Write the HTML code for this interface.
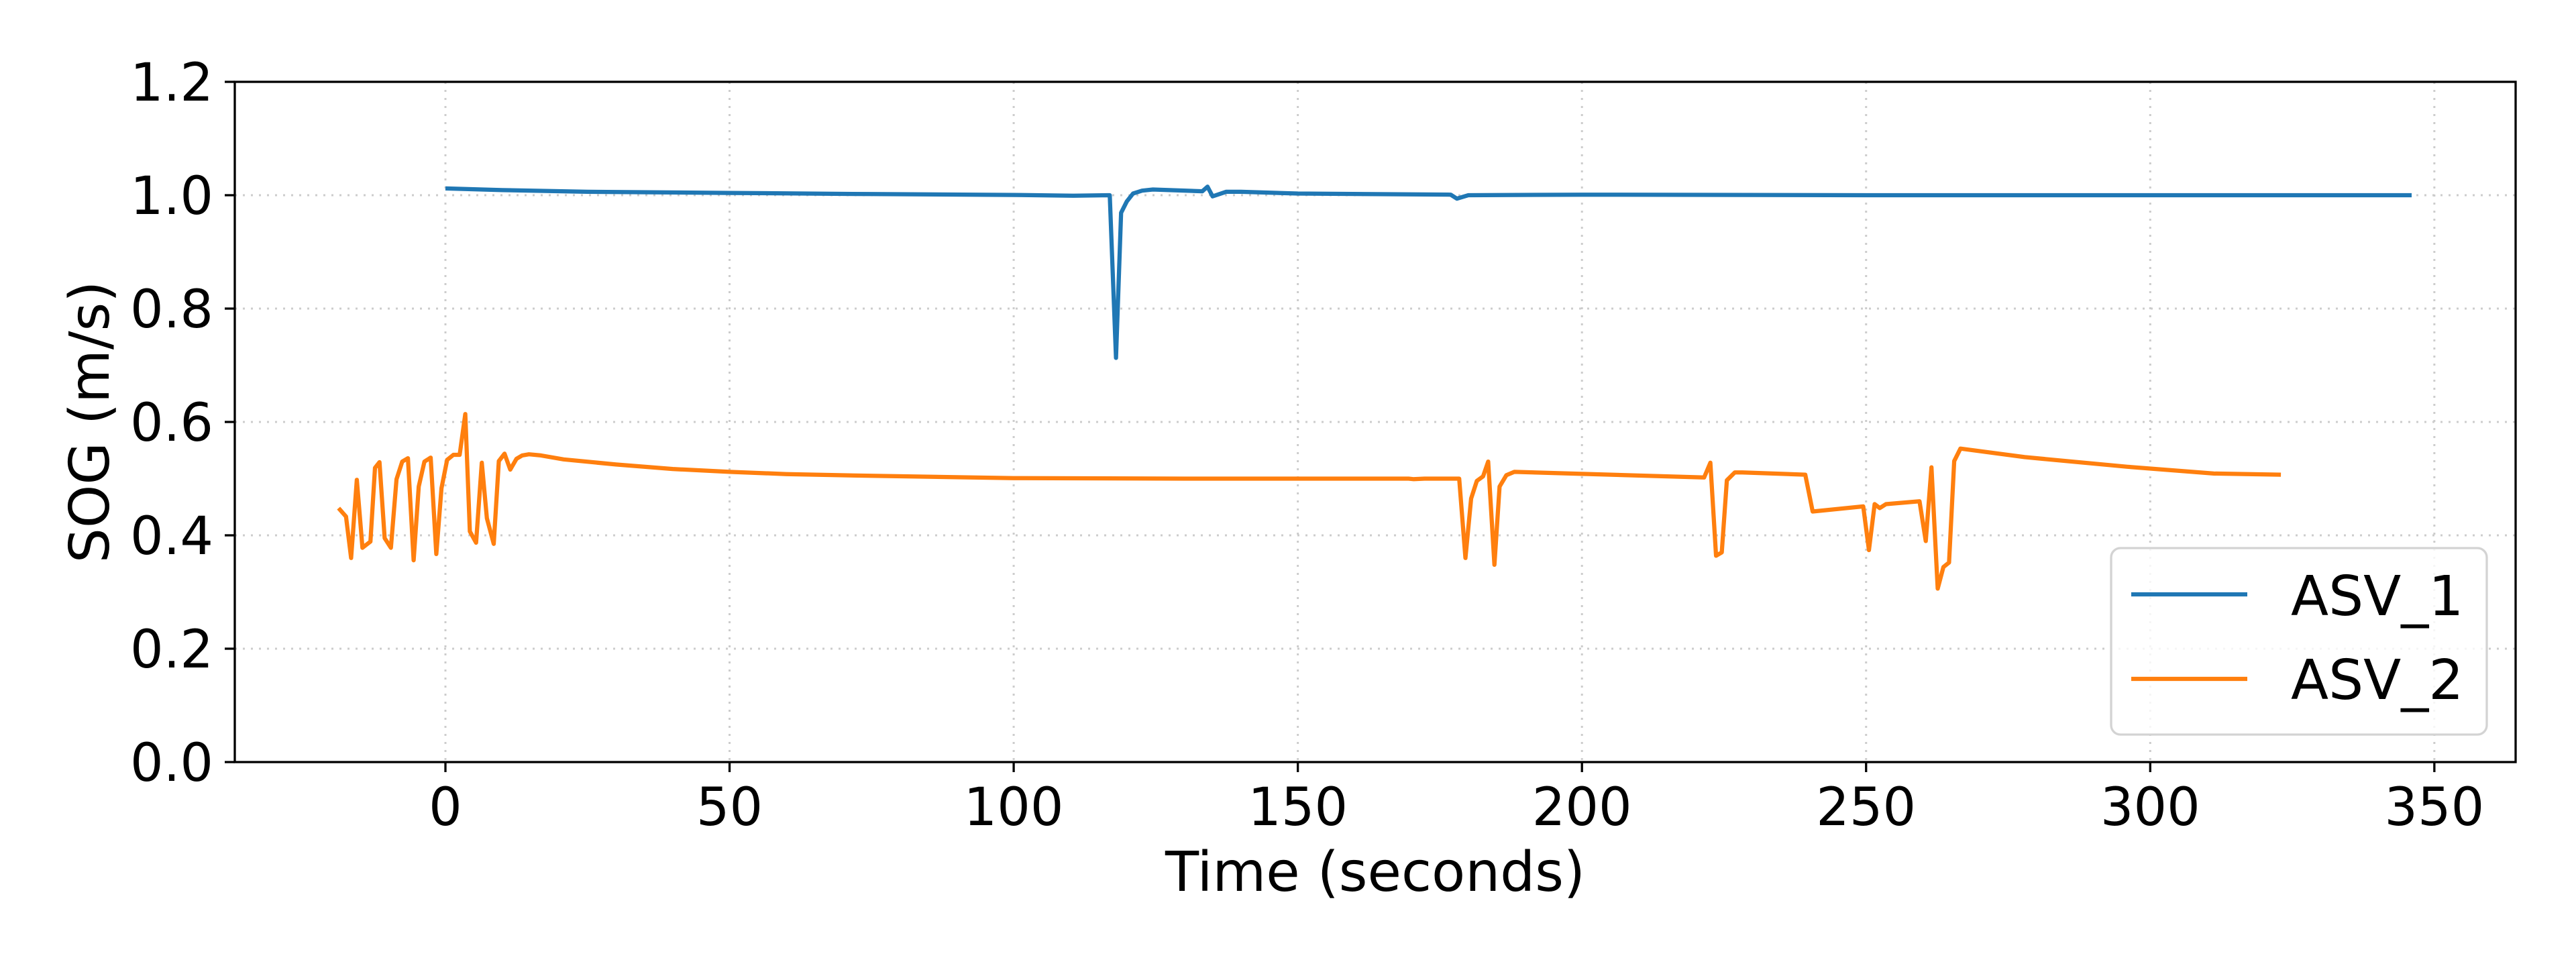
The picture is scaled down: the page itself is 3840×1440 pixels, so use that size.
<!DOCTYPE html>
<html><head><meta charset="utf-8"><style>
html,body{margin:0;padding:0;background:#fff;}
svg{display:block;font-family:"DejaVu Sans","Liberation Sans",sans-serif;}
</style></head><body>
<svg id="chart" width="3840" height="1440" viewBox="0 0 3840 1440" xmlns="http://www.w3.org/2000/svg">
<rect x="0" y="0" width="3840" height="1440" fill="#fff"/>
<g id="grid"></g>
<g id="series"></g>
<rect x="350" y="122" width="3400" height="1014" fill="none" stroke="#000" stroke-width="3.3"/>
<g id="xticks"></g>
<g id="yticks"></g>
<text x="2050" y="1328" font-size="82" text-anchor="middle">Time (seconds)</text>
<text x="0" y="0" font-size="82" text-anchor="middle" transform="translate(162,629) rotate(-90)">SOG (m/s)</text>
<g>
<rect x="3147" y="817" width="560" height="278" rx="14" fill="#fff" fill-opacity="0.8" stroke="#d3d3d3" stroke-width="3.3"/>
<line x1="3177" y1="886" x2="3350" y2="886" stroke="#1f77b4" stroke-width="6.25"/>
<text x="3415" y="917" font-size="82">ASV_1</text>
<line x1="3177" y1="1012" x2="3350" y2="1012" stroke="#ff7f0e" stroke-width="6.25"/>
<text x="3415" y="1042" font-size="82">ASV_2</text>
</g>
</svg>
<script>
const xTicks = [0,50,100,150,200,250,300,350];
const yTicks = [0.0,0.2,0.4,0.6,0.8,1.0,1.2];
const yTickLabels = ["0.0","0.2","0.4","0.6","0.8","1.0","1.2"];
const asv1Time = [0,10,25,50,75,100,110.5,116.9,118.0,118.9,119.9,121.0,122.6,124.5,133.2,134.1,135.0,137.4,140.0,150.0,176.9,178.0,180.0,200,250,300,346];
const asv1Sog  = [1.012,1.009,1.006,1.004,1.002,1.0005,0.999,1.000,0.713,0.969,0.989,1.003,1.008,1.010,1.007,1.015,0.998,1.006,1.006,1.003,1.001,0.994,1.000,1.001,1.000,1.000,1.000];
const asv2Time = [-18.8,-17.5,-16.6,-15.6,-14.6,-13.2,-12.4,-11.6,-10.7,-9.6,-8.6,-7.6,-6.6,-5.6,-4.7,-3.7,-2.6,-1.6,-0.7,0.3,1.4,2.5,3.5,4.3,5.4,6.4,7.3,8.5,9.4,10.4,11.4,12.5,13.5,14.7,16.8,20.8,30,40,50,60,75,100,130,169.5,170.4,172.3,178.4,179.5,180.5,181.5,182.6,183.5,184.6,185.5,186.7,188.1,221.5,222.6,223.6,224.6,225.5,226.9,228.2,239.3,240.6,249.5,250.5,251.5,252.4,253.5,259.4,260.5,261.5,262.6,263.6,264.6,265.5,266.6,277.9,296,311.2,323];
const asv2Sog  = [0.448,0.433,0.360,0.498,0.378,0.389,0.519,0.529,0.395,0.378,0.499,0.530,0.536,0.356,0.486,0.530,0.537,0.367,0.483,0.533,0.542,0.542,0.614,0.407,0.387,0.528,0.430,0.385,0.531,0.544,0.516,0.535,0.541,0.543,0.541,0.534,0.525,0.517,0.512,0.508,0.505,0.501,0.500,0.500,0.499,0.500,0.500,0.360,0.465,0.496,0.504,0.530,0.348,0.486,0.506,0.512,0.502,0.528,0.364,0.370,0.497,0.511,0.511,0.507,0.442,0.451,0.374,0.455,0.448,0.455,0.460,0.390,0.520,0.306,0.344,0.352,0.531,0.553,0.538,0.521,0.509,0.507];

const NS = "http://www.w3.org/2000/svg";
const X0 = 664, PXS = 8.471, YB = 1136, PXV = 845;
function sx(t){ return X0 + t*PXS; }
function sy(v){ return YB - v*PXV; }
function mk(tag, attrs, parent){ const e=document.createElementNS(NS,tag); for(const k in attrs) e.setAttribute(k,attrs[k]); parent.appendChild(e); return e; }

const grid=document.getElementById('grid'), xt=document.getElementById('xticks'), yt=document.getElementById('yticks'), ser=document.getElementById('series');
xTicks.forEach(t=>{
  const x=sx(t);
  const g=mk('line',{x1:x,y1:122,x2:x,y2:1136,stroke:'#cccccc','stroke-width':3,'stroke-dasharray':'3,9'},grid);
  
  
  const tk=mk('line',{x1:x,y1:1136,x2:x,y2:1151,stroke:'#000','stroke-width':3.3},xt);
  
  
  const lb=mk('text',{x:x,y:1230,'font-size':78,'text-anchor':'middle'},xt);
  lb.textContent=String(t);
  
  
});
yTicks.forEach((v,i)=>{
  const y=sy(v);
  const g=mk('line',{x1:350,y1:y,x2:3750,y2:y,stroke:'#cccccc','stroke-width':3,'stroke-dasharray':'3,9'},grid);
  
  
  const tk=mk('line',{x1:335,y1:y,x2:350,y2:y,stroke:'#000','stroke-width':3.3},yt);
  
  
  const lb=mk('text',{x:318,y:y+28,'font-size':78,'text-anchor':'end'},yt);
  lb.textContent=yTickLabels[i];
  
  
});
function path(ts,vs){ return ts.map((t,i)=>(i?'L':'M')+sx(t).toFixed(1)+','+sy(vs[i]).toFixed(1)).join(''); }
const p1=mk('path',{d:path(asv1Time,asv1Sog),fill:'none',stroke:'#1f77b4','stroke-width':6.25,'stroke-linejoin':'round'},ser);


const p2=mk('path',{d:path(asv2Time,asv2Sog),fill:'none',stroke:'#ff7f0e','stroke-width':6.25,'stroke-linejoin':'round'},ser);


</script>
</body></html>
